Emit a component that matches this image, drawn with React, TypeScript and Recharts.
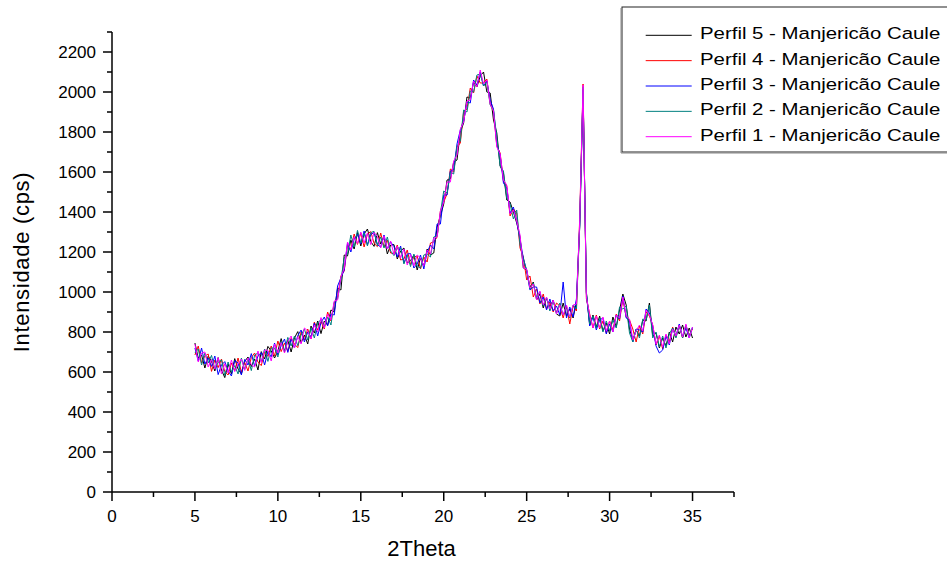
import { LineChart, Line, XAxis, YAxis } from "recharts";

const P5 = [
  745, 670, 685, 620, 680, 653, 605, 672, 610, 572,
  640, 590, 667, 615, 590, 653, 675, 627, 665, 610,
  702, 665, 728, 705, 670, 705, 767, 700, 758, 700,
  770, 802, 745, 785, 740, 830, 795, 855, 792, 855,
  835, 910, 900, 1020, 1010, 1185, 1180, 1260, 1215, 1298,
  1230, 1290, 1315, 1252, 1228, 1297, 1240, 1275, 1190, 1235,
  1237, 1165, 1205, 1220, 1145, 1157, 1185, 1110, 1170, 1130,
  1215, 1185, 1195, 1325, 1380, 1440, 1560, 1565, 1650, 1660,
  1800, 1845, 1975, 1970, 2050, 2025, 2080, 2100, 2000, 1995,
  1860, 1795, 1630, 1595, 1460, 1450, 1400, 1345, 1275, 1120,
  1110, 1025, 1050, 960, 990, 920, 970, 925, 960, 890,
  880, 945, 880, 915, 870, 950, 1330, 2010, 1000, 835,
  885, 825, 880, 805, 845, 790, 875, 825, 910, 990,
  935, 815, 760, 810, 780, 860, 855, 945, 780, 795,
  720, 770, 730, 800, 750, 825, 790, 835, 775, 820,
  770,
];

const P4 = [
  685, 730, 645, 680, 690, 603, 660, 622, 665, 602,
  585, 645, 607, 670, 600, 648, 605, 672, 695, 650,
  632, 700, 678, 730, 680, 755, 702, 745, 703, 770,
  740, 722, 800, 760, 815, 765, 850, 810, 852, 815,
  900, 855, 945, 975, 1080, 1105, 1235, 1215, 1290, 1238,
  1295, 1225, 1290, 1302, 1243, 1227, 1295, 1225, 1260, 1195,
  1192, 1235, 1160, 1165, 1210, 1137, 1175, 1180, 1115, 1175,
  1150, 1245, 1250, 1275, 1405, 1450, 1490, 1615, 1600, 1725,
  1745, 1900, 1915, 2020, 1995, 2080, 2045, 2045, 2065, 1940,
  1905, 1730, 1695, 1555, 1530, 1380, 1415, 1395, 1220, 1175,
  1060, 1080, 975, 1015, 940, 990, 915, 950, 900, 945,
  930, 870, 930, 840, 930, 905, 1375, 2040, 965, 890,
  820, 885, 815, 855, 795, 855, 810, 890, 855, 965,
  875, 860, 815, 750, 830, 790, 900, 880, 835, 735,
  780, 715, 785, 750, 825, 775, 835, 770, 830, 785,
  815,
];

const P3 = [
  720, 655, 720, 640, 670, 628, 680, 587, 635, 652,
  605, 580, 657, 645, 585, 663, 635, 692, 630, 680,
  697, 635, 703, 675, 745, 685, 732, 765, 698, 765,
  720, 782, 810, 750, 800, 775, 845, 780, 847, 875,
  830, 890, 885, 1030, 1070, 1110, 1245, 1200, 1265, 1288,
  1240, 1305, 1235, 1287, 1298, 1237, 1225, 1285, 1215, 1250,
  1227, 1175, 1230, 1145, 1190, 1192, 1120, 1140, 1185, 1115,
  1200, 1235, 1215, 1340, 1340, 1485, 1485, 1605, 1610, 1740,
  1810, 1855, 1950, 1945, 2060, 2035, 2100, 2030, 2055, 1960,
  1915, 1740, 1685, 1545, 1520, 1395, 1425, 1355, 1260, 1170,
  1105, 1010, 1025, 1025, 945, 975, 910, 965, 905, 930,
  885, 1050, 870, 925, 875, 965, 1340, 2015, 990, 830,
  875, 810, 860, 870, 790, 840, 800, 885, 865, 980,
  870, 855, 750, 815, 810, 800, 915, 895, 825, 730,
  695, 710, 780, 735, 820, 780, 840, 775, 820, 770,
  825,
];

const P2 = [
  695, 715, 635, 695, 645, 683, 615, 647, 660, 582,
  650, 600, 632, 590, 670, 613, 665, 607, 685, 695,
  652, 715, 653, 720, 720, 675, 752, 705, 773, 730,
  780, 732, 785, 815, 760, 820, 770, 845, 862, 825,
  875, 835, 950, 965, 1060, 1170, 1190, 1285, 1225, 1308,
  1245, 1295, 1230, 1297, 1303, 1232, 1275, 1220, 1275, 1205,
  1182, 1220, 1220, 1140, 1185, 1127, 1190, 1130, 1120, 1185,
  1190, 1175, 1275, 1280, 1395, 1505, 1495, 1600, 1590, 1730,
  1755, 1910, 1900, 2005, 2000, 2085, 2090, 2030, 2050, 1935,
  1910, 1775, 1630, 1605, 1470, 1440, 1365, 1410, 1235, 1165,
  1110, 1015, 1045, 970, 1000, 930, 970, 905, 955, 895,
  945, 885, 925, 870, 935, 915, 1335, 2025, 995, 840,
  880, 820, 870, 800, 855, 805, 860, 820, 925, 915,
  930, 795, 750, 815, 770, 865, 860, 935, 770, 800,
  725, 780, 720, 790, 820, 770, 830, 770, 835, 780,
  820,
];

const P1 = [
  740, 650, 695, 700, 625, 663, 615, 672, 590, 642,
  595, 660, 602, 640, 665, 608, 670, 637, 625, 705,
  647, 710, 708, 655, 740, 695, 747, 695, 753, 780,
  720, 777, 740, 820, 805, 765, 835, 800, 872, 820,
  890, 860, 955, 960, 1075, 1120, 1250, 1210, 1275, 1243,
  1300, 1245, 1295, 1237, 1298, 1277, 1220, 1280, 1215, 1255,
  1187, 1230, 1170, 1215, 1135, 1187, 1130, 1185, 1170, 1130,
  1210, 1190, 1270, 1275, 1405, 1450, 1550, 1550, 1655, 1685,
  1815, 1850, 1955, 1960, 2055, 2025, 2110, 2040, 2060, 1940,
  1905, 1725, 1690, 1560, 1535, 1390, 1410, 1355, 1285, 1120,
  1115, 1020, 1040, 960, 1005, 935, 975, 915, 960, 890,
  935, 885, 935, 875, 935, 940, 1360, 2035, 975, 885,
  820, 880, 820, 875, 805, 855, 800, 885, 870, 975,
  880, 865, 760, 805, 835, 805, 910, 885, 835, 740,
  785, 725, 790, 740, 815, 780, 835, 775, 840, 770,
  825,
];

const X_TICKS = [0, 2.5, 5, 7.5, 10, 12.5, 15, 17.5, 20, 22.5, 25, 27.5, 30, 32.5, 35, 37.5];
const Y_TICKS = [
  0, 100, 200, 300, 400, 500, 600, 700, 800, 900, 1000, 1100,
  1200, 1300, 1400, 1500, 1600, 1700, 1800, 1900, 2000, 2100, 2200, 2300,
];

const SERIES = [
  { key: "p5", name: "Perfil 5 - Manjericão Caule", color: "#000000", values: P5 },
  { key: "p4", name: "Perfil 4 - Manjericão Caule", color: "#ff0000", values: P4 },
  { key: "p3", name: "Perfil 3 - Manjericão Caule", color: "#0000ff", values: P3 },
  { key: "p2", name: "Perfil 2 - Manjericão Caule", color: "#008080", values: P2 },
  { key: "p1", name: "Perfil 1 - Manjericão Caule", color: "#ff00ff", values: P1 },
];

// 2θ sampling grid
const THETA = P5.map((_, i) => Math.round((5 + i * 0.2) * 10) / 10);

const rows = THETA.map((x, i) => {
  const r: Record<string, number> = { x };
  SERIES.forEach((s) => (r[s.key] = s.values[i]));
  return r;
});

const FONT = "'Liberation Sans', Arial, Helvetica, sans-serif";
const W = 947;
const H = 561;

const XTick = (props: any) => {
  const { x, y, payload } = props;
  const major = payload.value % 5 === 0;
  return (
    <g>
      <line x1={x} x2={x} y1={y} y2={y + (major ? 9 : 5)} stroke="#000" strokeWidth={1.5} />
      {major && (
        <text x={x} y={y + 29.5} textAnchor="middle" fontSize={17} fontFamily={FONT} fill="#000">
          {payload.value}
        </text>
      )}
    </g>
  );
};

const YTick = (props: any) => {
  const { x, y, payload } = props;
  const major = payload.value % 200 === 0;
  return (
    <g>
      <line x1={x - (major ? 9 : 5)} x2={x} y1={y} y2={y} stroke="#000" strokeWidth={1.5} />
      {major && (
        <text x={x - 16} y={y + 6} textAnchor="end" fontSize={17} fontFamily={FONT} fill="#000">
          {payload.value}
        </text>
      )}
    </g>
  );
};

function Overlay() {
  const rowY = (k: number) => 35.3 + k * 25.35;
  return (
    <svg
      width={W}
      height={H}
      style={{ position: "absolute", left: 0, top: 0, pointerEvents: "none" }}
    >
      <text
        transform="translate(28.5 262) rotate(-90)"
        textAnchor="middle"
        fontSize={22}
        letterSpacing={0.7}
        fontFamily={FONT}
        fill="#000"
      >
        Intensidade (cps)
      </text>
      <text x={421.5} y={556} textAnchor="middle" fontSize={22} fontFamily={FONT} fill="#000">
        2Theta
      </text>
      <rect x={622} y={7} width={340} height={145} fill="#fff" stroke="#222" strokeWidth={1} />
      <line x1={621} x2={621} y1={8} y2={153} stroke="#888" strokeWidth={1} />
      <line x1={621} x2={960} y1={153} y2={153} stroke="#888" strokeWidth={1} />
      {SERIES.map((s, k) => (
        <g key={s.key}>
          <line x1={645.7} x2={691.7} y1={rowY(k)} y2={rowY(k)} stroke={s.color} strokeWidth={1} />
          <text
            transform={`translate(700 ${rowY(k) + 4}) scale(1.2 1)`}
            fontSize={17}
            fontFamily={FONT}
            fill="#000"
          >
            {s.name}
          </text>
        </g>
      ))}
    </svg>
  );
}

export default function App() {
  return (
    <div
      style={{
        position: "absolute",
        left: 0,
        top: 0,
        width: W,
        height: H,
        overflow: "hidden",
        background: "#fff",
      }}
    >
      <LineChart
        width={W}
        height={H}
        data={rows}
        margin={{ top: 32, right: 213, bottom: 39, left: 52 }}
      >
        <XAxis
          dataKey="x"
          type="number"
          domain={[0, 37.5]}
          ticks={X_TICKS}
          interval={0}
          allowDataOverflow
          height={30}
          tickSize={0}
          tickMargin={0}
          tickLine={false}
          tick={<XTick />}
          axisLine={{ stroke: "#000", strokeWidth: 1.5 }}
        />
        <YAxis
          type="number"
          domain={[0, 2300]}
          ticks={Y_TICKS}
          interval={0}
          allowDataOverflow
          width={60}
          tickSize={0}
          tickMargin={0}
          tickLine={false}
          tick={<YTick />}
          axisLine={{ stroke: "#000", strokeWidth: 1.5 }}
        />
        {SERIES.map((s) => (
          <Line
            key={s.key}
            dataKey={s.key}
            name={s.name}
            stroke={s.color}
            strokeWidth={1}
            dot={false}
            activeDot={false}
            isAnimationActive={false}
            type="linear"
          />
        ))}
      </LineChart>
      <Overlay />
    </div>
  );
}
